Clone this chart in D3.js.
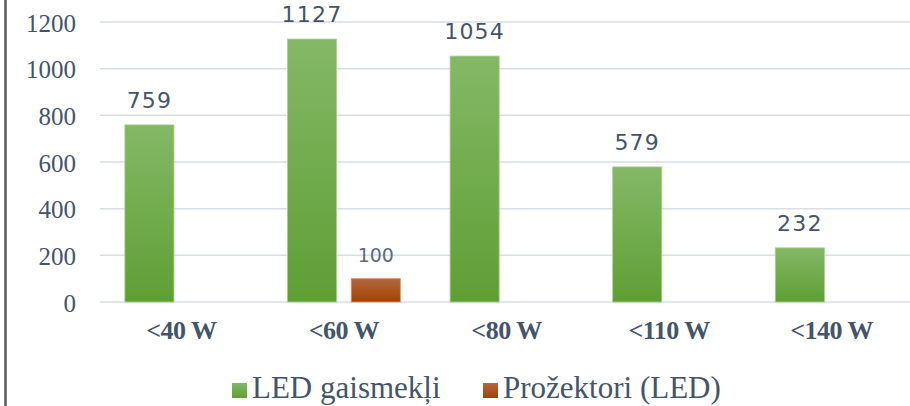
<!DOCTYPE html>
<html>
<head>
<meta charset="utf-8">
<script src="https://cdn.jsdelivr.net/npm/d3@7"></script>
<style>
  body { margin: 0; background: #fff; }
  svg { display: block; }
</style>
</head>
<body>
<div id="chart"></div>
<script>
var categories = ["<40 W", "<60 W", "<80 W", "<110 W", "<140 W"];
var seriesNames = ["LED gaismekļi", "Prožektori (LED)"];
var ledValues = [759, 1127, 1054, 579, 232];
var projValues = [null, 100, null, null, null];
var yTicks = [0, 200, 400, 600, 800, 1000, 1200];

var w = 910, h = 406;
var textColor = "#44546a";
var serifFont = "'Liberation Serif', 'Times New Roman', serif";
var sansFont = "'DejaVu Sans', Verdana, sans-serif";

var svg = d3.select("#chart").append("svg")
    .attr("width", w)
    .attr("height", h);

// gradients for the bars
var defs = svg.append("defs");
function addGrad(id, top, bottom) {
    var g = defs.append("linearGradient")
        .attr("id", id)
        .attr("x1", 0).attr("y1", 0).attr("x2", 0).attr("y2", 1);
    g.append("stop").attr("offset", "0%").attr("stop-color", top);
    g.append("stop").attr("offset", "100%").attr("stop-color", bottom);
}
addGrad("gGreen", "#84b866", "#5e9f34");
addGrad("gRed", "#b4663f", "#a04300");

// left frame line
svg.append("line")
    .attr("x1", 5.5).attr("x2", 5.5)
    .attr("y1", 0).attr("y2", h)
    .attr("stroke", "#595959")
    .attr("stroke-width", 2.5);

var y = d3.scaleLinear()
    .domain([0, 1200])
    .range([302, 22]);

var x0 = d3.scaleBand()
    .domain(categories)
    .range([100, 913])
    .paddingInner(0.306)
    .paddingOuter(0.153);

var x1 = d3.scaleBand()
    .domain(seriesNames)
    .range([0, x0.bandwidth()])
    .paddingInner(0.23);

// gridlines
svg.append("g")
    .selectAll("line")
    .data(yTicks)
    .enter().append("line")
    .attr("x1", 100).attr("x2", w)
    .attr("y1", function(d) { return y(d); })
    .attr("y2", function(d) { return y(d); })
    .attr("stroke", "#d9dde6")
    .attr("stroke-width", 1.5);

// y axis labels
var yAxis = d3.axisLeft(y).tickValues(yTicks).tickFormat(d3.format("d")).tickSize(0).tickPadding(0);
var yg = svg.append("g")
    .attr("transform", "translate(76,1)")
    .call(yAxis);
yg.select(".domain").remove();
yg.selectAll("text")
    .style("font-family", serifFont)
    .style("font-size", "25px")
    .attr("fill", textColor);

// x axis labels
var xAxis = d3.axisBottom(x0).tickSize(0).tickPadding(0);
var xg = svg.append("g")
    .attr("transform", "translate(0,321)")
    .call(xAxis);
xg.select(".domain").remove();
xg.selectAll("text")
    .style("font-family", serifFont)
    .style("font-weight", "bold")
    .style("font-size", "26px")
    .style("letter-spacing", "-0.5px")
    .attr("fill", textColor);

var rows = [];
categories.forEach(function(c, i) {
    rows.push({cat: c, series: seriesNames[0], value: ledValues[i]});
    if (projValues[i] != null) {
        rows.push({cat: c, series: seriesNames[1], value: projValues[i]});
    }
});

var bars = svg.append("g")
    .selectAll("g.bar")
    .data(rows)
    .enter().append("g")
    .attr("class", "bar");

bars.append("rect")
    .attr("x", function(d) { return x0(d.cat) + x1(d.series); })
    .attr("y", function(d) { return y(d.value); })
    .attr("width", x1.bandwidth())
    .attr("height", function(d) { return y(0) - y(d.value); })
    .attr("fill", function(d) { return d.series == seriesNames[0] ? "url(#gGreen)" : "url(#gRed)"; })
    .attr("stroke", function(d) { return d.series == seriesNames[0] ? "#a9d18e" : "#d9906a"; })
    .attr("stroke-width", 0.8);

bars.append("text")
    .attr("x", function(d) { return x0(d.cat) + x1(d.series) + x1.bandwidth() / 2; })
    .attr("y", function(d) { return y(d.value) - 17; })
    .attr("text-anchor", "middle")
    .style("font-family", sansFont)
    .style("font-size", function(d) { return d.series == seriesNames[0] ? "22px" : "19px"; })
    .style("letter-spacing", function(d) { return d.series == seriesNames[0] ? "1.2px" : "0px"; })
    .attr("fill", function(d) { return d.series == seriesNames[0] ? textColor : "#5b6b7c"; })
    .text(function(d) { return d.value; });

// legend
var legendItems = [
    {name: seriesNames[0], x: 232, fill: "url(#gGreen)"},
    {name: seriesNames[1], x: 483, fill: "url(#gRed)"}
];
var legend = svg.append("g")
    .selectAll("g")
    .data(legendItems)
    .enter().append("g")
    .attr("transform", function(d) { return "translate(" + d.x + ",383)"; });

legend.append("rect")
    .attr("width", 15)
    .attr("height", 15)
    .attr("fill", function(d) { return d.fill; });

legend.append("text")
    .attr("x", 20)
    .attr("y", 15)
    .style("font-family", serifFont)
    .style("font-size", "31px")
    .attr("fill", textColor)
    .text(function(d) { return d.name; });
</script>
</body>
</html>
